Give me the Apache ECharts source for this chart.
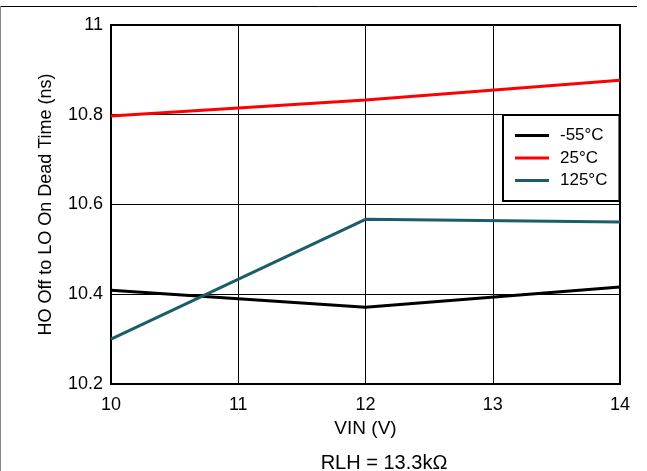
<!DOCTYPE html>
<html>
<head>
<meta charset="utf-8">
<script src="https://cdn.jsdelivr.net/npm/echarts@6/dist/echarts.min.js"></script>
<style>
  html, body { margin: 0; padding: 0; background: #fff; }
  #chart { width: 647px; height: 471px; }
</style>
</head>
<body>
<div id="chart"></div>
<script>
// data
const vin = [10, 12, 14];
const tM55 = [10.409, 10.371, 10.416];
const t25 = [10.797, 10.833, 10.877];
const t125 = [10.300, 10.567, 10.561];
const seriesNames = ['-55°C', '25°C', '125°C'];
const seriesColors = ['#000000', '#ff0000', '#1b5e6b'];

const pairs = ys => vin.map((x, i) => [x, ys[i]]);
const font = 'Liberation Sans, Arial, sans-serif';

const myChart = echarts.init(document.getElementById('chart'));
myChart.setOption({
  animation: false,
  textStyle: { fontFamily: font },
  title: {
    text: 'RLH = 13.3kΩ',
    left: 379,
    top: 448,
    textAlign: 'center',
    textStyle: { fontFamily: font, fontSize: 20, fontWeight: 'normal', color: '#000' }
  },
  grid: { left: 111, right: 27, top: 25, bottom: 87, show: true, borderColor: '#000', borderWidth: 2 },
  legend: {
    orient: 'vertical',
    left: 503,
    top: 115,
    padding: [12, 12, 12, 12],
    itemGap: 5.5,
    itemWidth: 34,
    itemHeight: 16,
    backgroundColor: '#fff',
    borderColor: '#000',
    borderWidth: 2,
    textStyle: { fontFamily: font, fontSize: 17, color: '#000', padding: [0, 0, 0, 6] },
    data: seriesNames.map(n => ({ name: n, icon: 'path://M0,6 L34,6 L34,9 L0,9 Z' }))
  },
  xAxis: {
    type: 'value',
    min: 10, max: 14, interval: 1,
    name: 'VIN (V)',
    nameLocation: 'middle',
    nameGap: 31,
    nameTextStyle: { fontFamily: font, fontSize: 19, color: '#000' },
    axisLine: { show: false },
    axisTick: { show: false },
    axisLabel: { fontFamily: font, fontSize: 18, color: '#000', margin: 12 },
    splitLine: { lineStyle: { color: '#000', width: 1 } }
  },
  yAxis: {
    type: 'value',
    min: 10.2, max: 11, interval: 0.2,
    name: 'HO Off to LO On Dead Time (ns)',
    nameLocation: 'middle',
    nameGap: 56,
    nameTextStyle: { fontFamily: font, fontSize: 18, color: '#000' },
    axisLine: { show: false },
    axisTick: { show: false },
    axisLabel: { fontFamily: font, fontSize: 18, color: '#000', margin: 8,
      formatter: v => String(+v.toFixed(1)) },
    splitLine: { lineStyle: { color: '#000', width: 1 } }
  },
  graphic: [
    { type: 'line', shape: { x1: 0, y1: 6.5, x2: 637, y2: 6.5 }, style: { stroke: '#000', lineWidth: 1 } },
    { type: 'line', shape: { x1: 0.5, y1: 6, x2: 0.5, y2: 471 }, style: { stroke: '#888', lineWidth: 1 } }
  ],
  series: [tM55, t25, t125].map((ys, i) => ({
    name: seriesNames[i],
    type: 'line',
    data: pairs(ys),
    symbol: 'none',
    color: seriesColors[i],
    lineStyle: { width: 3, color: seriesColors[i] }
  }))
});
</script>
</body>
</html>
